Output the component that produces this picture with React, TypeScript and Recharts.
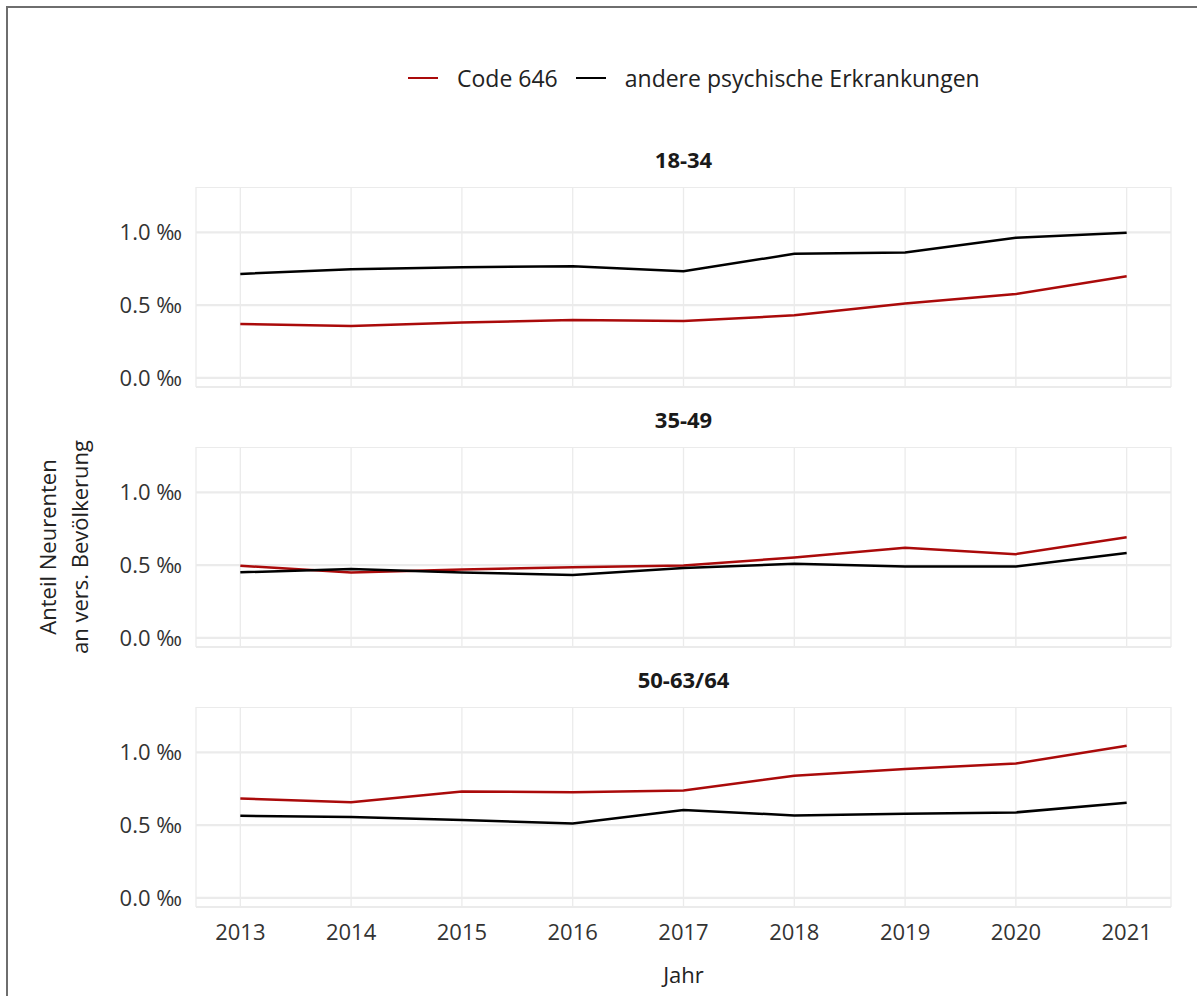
import React from 'react';
import { LineChart, Line, XAxis, YAxis, CartesianGrid } from 'recharts';

const years = [2013, 2014, 2015, 2016, 2017, 2018, 2019, 2020, 2021];

// Anteil Neurenten an versicherter Bevölkerung (Promille)
const code646_18_34 = [0.37, 0.357, 0.381, 0.398, 0.391, 0.43, 0.512, 0.577, 0.699];
const andere_18_34 = [0.715, 0.747, 0.761, 0.768, 0.733, 0.853, 0.862, 0.963, 0.998];

const code646_35_49 = [0.496, 0.45, 0.47, 0.486, 0.498, 0.553, 0.62, 0.576, 0.692];
const andere_35_49 = [0.451, 0.474, 0.449, 0.433, 0.481, 0.509, 0.491, 0.491, 0.583];

const code646_50_64 = [0.683, 0.658, 0.731, 0.727, 0.738, 0.84, 0.887, 0.924, 1.046];
const andere_50_64 = [0.565, 0.556, 0.535, 0.512, 0.604, 0.567, 0.579, 0.588, 0.655];

const yTicks = [0, 0.5, 1.0];

const series = [
    { key: 'code646', name: 'Code 646', color: '#AA0A0A' },
    { key: 'andere', name: 'andere psychische Erkrankungen', color: '#000000' },
];

const panels = [
    { title: '18-34', code646: code646_18_34, andere: andere_18_34 },
    { title: '35-49', code646: code646_35_49, andere: andere_35_49 },
    { title: '50-63/64', code646: code646_50_64, andere: andere_50_64 },
];

const FONT = '"Open Sans", "Noto Sans", sans-serif';
const W = 1197;
const PANEL_TOP = [187, 447, 707];
const PANEL_H = 200;
const PLOT_LEFT = 196;
const PLOT_RIGHT = 1171;
const CENTER_X = (PLOT_LEFT + PLOT_RIGHT) / 2;

function Panel({ index }: { index: number }) {
    const p = panels[index];
    const data = years.map((year, i) => ({ year, code646: p.code646[i], andere: p.andere[i] }));
    const last = index === panels.length - 1;
    // hidden x axis on upper panels takes no room, so leave a bottom margin for the 0.0 label
    const bottom = last ? 0 : 20;
    return (
        <div style={{ position: 'absolute', left: 0, top: PANEL_TOP[index] }}>
            <LineChart
                width={W}
                height={last ? PANEL_H + 60 : PANEL_H + bottom}
                data={data}
                margin={{ top: 0, right: W - PLOT_RIGHT, bottom, left: 0 }}
            >
                <CartesianGrid stroke="#EBEBEB" strokeWidth={1.3} horizontal={false} />
                <CartesianGrid stroke="#EBEBEB" strokeWidth={2.2} vertical={false} />
                <XAxis
                    type="number"
                    dataKey="year"
                    domain={[2012.6, 2021.4]}
                    ticks={years}
                    hide={!last}
                    height={60}
                    axisLine={false}
                    tickLine={false}
                    tickSize={0}
                    tickMargin={17}
                    interval={0}
                    tick={{ fill: '#333', fontSize: 22, fontFamily: FONT }}
                />
                <YAxis
                    type="number"
                    domain={[-0.0625, 1.3125]}
                    ticks={yTicks}
                    interval={0}
                    width={PLOT_LEFT}
                    axisLine={false}
                    tickLine={false}
                    tickSize={0}
                    tickMargin={14}
                    tickFormatter={(v: number) => `${v.toFixed(1)} ‰`}
                    tick={{ fill: '#333', fontSize: 22, fontFamily: FONT }}
                />
                {series.map((s) => (
                    <Line
                        key={s.key}
                        type="linear"
                        dataKey={s.key}
                        name={s.name}
                        stroke={s.color}
                        strokeWidth={2.5}
                        dot={false}
                        isAnimationActive={false}
                    />
                ))}
            </LineChart>
        </div>
    );
}

export default function App() {
    return (
        <div
            style={{
                position: 'absolute',
                left: 0,
                top: 0,
                width: W,
                height: 996,
                background: '#fff',
                fontFamily: FONT,
                overflow: 'hidden',
            }}
        >
            {/* frame: top and left edge only */}
            <div
                style={{
                    position: 'absolute',
                    left: 6,
                    top: 6,
                    width: W - 6,
                    height: 996 - 6,
                    borderTop: '2px solid #6E6E6E',
                    borderLeft: '2px solid #6E6E6E',
                    boxSizing: 'border-box',
                }}
            />

            {/* legend */}
            <div style={{ position: 'absolute', left: 408, top: 62, display: 'flex', alignItems: 'center', fontSize: 23, color: '#222' }}>
                {series.map((s, i) => (
                    <div key={s.key} style={{ display: 'flex', alignItems: 'center', marginLeft: i === 0 ? 0 : 18 }}>
                        <span style={{ display: 'inline-block', width: 30, height: 2.5, background: s.color, marginRight: 19 }} />
                        <span style={{ lineHeight: '32px' }}>{s.name}</span>
                    </div>
                ))}
            </div>

            {panels.map((_, i) => (
                <Panel key={i} index={i} />
            ))}

            <svg width={W} height={996} style={{ position: 'absolute', left: 0, top: 0, pointerEvents: 'none' }}>
                {panels.map((p, i) => (
                    <text
                        key={p.title}
                        x={CENTER_X}
                        y={PANEL_TOP[i] - 19}
                        textAnchor="middle"
                        fontFamily={FONT}
                        fontSize={22}
                        fontWeight="bold"
                        fill="#1A1A1A"
                    >
                        {p.title}
                    </text>
                ))}
                <text x={CENTER_X} y={983} textAnchor="middle" fontFamily={FONT} fontSize={22} fill="#222">
                    Jahr
                </text>
                <text x={56} y={547} transform="rotate(-90 56 547)" textAnchor="middle" fontFamily={FONT} fontSize={22} fill="#222">
                    Anteil Neurenten
                </text>
                <text x={88} y={547} transform="rotate(-90 88 547)" textAnchor="middle" fontFamily={FONT} fontSize={22} fill="#222">
                    an vers. Bevölkerung
                </text>
            </svg>
        </div>
    );
}
